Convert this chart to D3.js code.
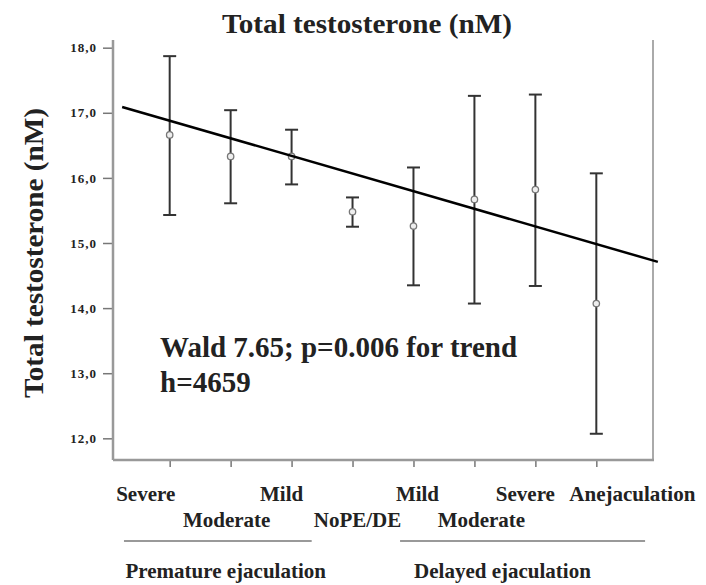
<!DOCTYPE html>
<html>
<head>
<meta charset="utf-8">
<script src="https://cdn.jsdelivr.net/npm/d3@7"></script>
<style>
  body { margin: 0; background: #fff; }
  svg text { font-family: "Liberation Serif", "Times New Roman", serif; font-weight: bold; fill: #222; }
</style>
</head>
<body>
<div id="chart"></div>
<script>
// categories along the x axis (8 groups)
var categories = ["Severe", "Moderate", "Mild", "NoPE/DE", "Mild", "Moderate", "Severe", "Anejaculation"];
// mean and 95% CI of total testosterone (nM)
var means = [16.66, 16.33, 16.33, 15.48, 15.26, 15.67, 15.82, 14.07];
var lower = [15.43, 15.61, 15.90, 15.25, 14.35, 14.07, 14.34, 12.07];
var upper = [17.87, 17.04, 16.74, 15.70, 16.16, 17.26, 17.28, 16.07];
// fitted trend line, two ends (category index, value)
var trendIdx = [-0.78, 8.01];
var trendVal = [17.09, 14.71];
var yTicks = [12, 13, 14, 15, 16, 17, 18];
var groupNames = ["Premature ejaculation", "Delayed ejaculation"];

// label layout (row and small shift) - not data
var labelRow = [0, 1, 0, 1, 0, 1, 0, 0];
var labelShift = [-24, -4, -10, 5, 4, 7, -10, 36];
var groupSpan = [[-0.75, 2.33], [3.78, 7.80]];
var groupCenter = [0.92, 5.46];

var W = 706, H = 585;
var plot = {left: 113, right: 653, top: 40, bottom: 460};

var svg = d3.select("#chart").append("svg")
    .attr("width", W)
    .attr("height", H);

// scales
var x = d3.scaleLinear().domain([-0.93, 7.93]).range([plot.left, plot.right]);
var y = d3.scaleLinear().domain([11.667, 18.118]).range([plot.bottom, plot.top]);

// title
svg.append("text")
    .attr("x", 367).attr("y", 33)
    .attr("text-anchor", "middle")
    .style("font-size", "27px")
    .attr("textLength", 290).attr("lengthAdjust", "spacingAndGlyphs")
    .text("Total testosterone (nM)");

// y axis label
svg.append("text")
    .attr("transform", "translate(43,253) rotate(-90)")
    .attr("text-anchor", "middle")
    .style("font-size", "28px")
    .attr("textLength", 290).attr("lengthAdjust", "spacingAndGlyphs")
    .text("Total testosterone (nM)");

// right frame line
svg.append("line")
    .attr("x1", plot.right).attr("x2", plot.right)
    .attr("y1", plot.top).attr("y2", plot.bottom)
    .attr("stroke", "#aaa").attr("stroke-width", 2);

// y axis
var yAxis = svg.append("g")
    .attr("transform", "translate(" + plot.left + ",0)")
    .call(d3.axisLeft(y).tickValues(yTicks).tickSize(10).tickPadding(6)
        .tickFormat(function(d) { return d3.format(".1f")(d).replace(".", ","); }));
yAxis.select(".domain").remove();
yAxis.selectAll(".tick line").attr("stroke", "#777").attr("stroke-width", 1.5);
yAxis.selectAll(".tick text").style("font-size", "13px").style("letter-spacing", "1px")
    .style("font-family", "Liberation Serif").style("font-weight", "bold").attr("fill", "#333");
svg.append("line")
    .attr("x1", plot.left).attr("x2", plot.left)
    .attr("y1", plot.top).attr("y2", plot.bottom)
    .attr("stroke", "#999").attr("stroke-width", 2.5);

// x axis
var xAxis = svg.append("g")
    .attr("transform", "translate(0," + plot.bottom + ")")
    .call(d3.axisBottom(x).tickValues(d3.range(categories.length)).tickSize(7).tickFormat(""));
xAxis.select(".domain").remove();
xAxis.selectAll(".tick line").attr("stroke", "#777").attr("stroke-width", 1.5);
svg.append("line")
    .attr("x1", plot.left).attr("x2", plot.right + 1)
    .attr("y1", plot.bottom).attr("y2", plot.bottom)
    .attr("stroke", "#999").attr("stroke-width", 2.5);

// error bars
var bars = svg.append("g").selectAll("g")
    .data(means)
  .enter().append("g");

bars.append("line")
    .attr("x1", function(d, i) { return x(i); })
    .attr("x2", function(d, i) { return x(i); })
    .attr("y1", function(d, i) { return y(lower[i]); })
    .attr("y2", function(d, i) { return y(upper[i]); })
    .attr("stroke", "#333").attr("stroke-width", 2);

bars.append("line")
    .attr("x1", function(d, i) { return x(i) - 6.5; })
    .attr("x2", function(d, i) { return x(i) + 6.5; })
    .attr("y1", function(d, i) { return y(upper[i]); })
    .attr("y2", function(d, i) { return y(upper[i]); })
    .attr("stroke", "#333").attr("stroke-width", 2);

bars.append("line")
    .attr("x1", function(d, i) { return x(i) - 6.5; })
    .attr("x2", function(d, i) { return x(i) + 6.5; })
    .attr("y1", function(d, i) { return y(lower[i]); })
    .attr("y2", function(d, i) { return y(lower[i]); })
    .attr("stroke", "#333").attr("stroke-width", 2);

// trend line
svg.append("line")
    .attr("x1", x(trendIdx[0])).attr("y1", y(trendVal[0]))
    .attr("x2", x(trendIdx[1])).attr("y2", y(trendVal[1]))
    .attr("stroke", "#000").attr("stroke-width", 2.5);

// mean markers
bars.append("circle")
    .attr("cx", function(d, i) { return x(i); })
    .attr("cy", function(d) { return y(d); })
    .attr("r", 3.2)
    .attr("fill", "#eee")
    .attr("stroke", "#777").attr("stroke-width", 1.3);

// annotation
svg.append("text")
    .attr("x", 160).attr("y", 357)
    .style("font-size", "29px")
    .text("Wald 7.65; p=0.006 for trend");
svg.append("text")
    .attr("x", 160).attr("y", 392)
    .style("font-size", "29px")
    .text("h=4659");

// category labels
svg.append("g").selectAll("text")
    .data(categories)
  .enter().append("text")
    .attr("x", function(d, i) { return x(i) + labelShift[i]; })
    .attr("y", function(d, i) { return labelRow[i] ? 527 : 501; })
    .attr("text-anchor", "middle")
    .style("font-size", "21px")
    .text(function(d) { return d; });

// group underlines and names
svg.append("g").selectAll("line")
    .data(groupSpan)
  .enter().append("line")
    .attr("x1", function(d) { return x(d[0]); })
    .attr("x2", function(d) { return x(d[1]); })
    .attr("y1", 541).attr("y2", 541)
    .attr("stroke", "#999").attr("stroke-width", 2);

svg.append("g").selectAll("text")
    .data(groupNames)
  .enter().append("text")
    .attr("x", function(d, i) { return x(groupCenter[i]); })
    .attr("y", 578)
    .attr("text-anchor", "middle")
    .style("font-size", "21px")
    .text(function(d) { return d; });
</script>
</body>
</html>
